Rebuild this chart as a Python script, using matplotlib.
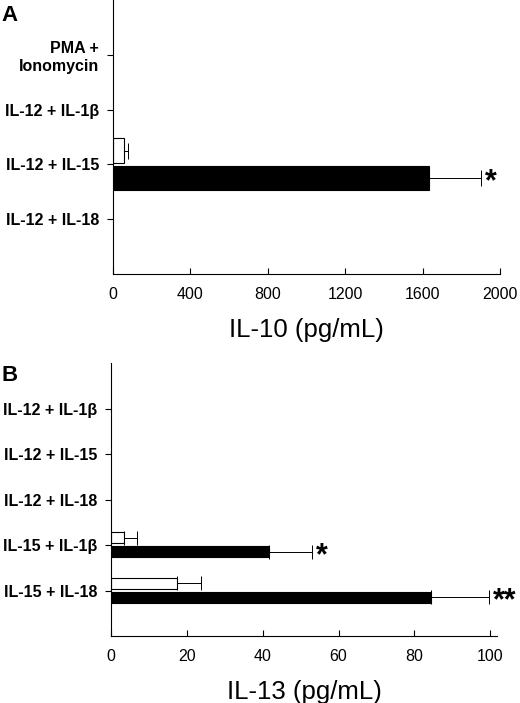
import numpy as np
import matplotlib.pyplot as plt

plt.rcParams['font.family'] = ['Liberation Sans', 'DejaVu Sans']

# Painel A - IL-10
cat_a = ['PMA +\nIonomycin', 'IL-12 + IL-1β', 'IL-12 + IL-15', 'IL-12 + IL-18']
aberto_a = [0, 0, 58, 0]
aberto_a_err = [0, 0, 21, 0]
preto_a = [0, 0, 1633, 0]
preto_a_err = [0, 0, 267, 0]
sig_a = ['', '', '*', '']
ticks_a = [0, 400, 800, 1200, 1600, 2000]

# Painel B - IL-13
cat_b = ['IL-12 + IL-1β', 'IL-12 + IL-15', 'IL-12 + IL-18', 'IL-15 + IL-1β', 'IL-15 + IL-18']
aberto_b = [0, 0, 0, 3.4, 17.4]
aberto_b_err = [0, 0, 0, 3.4, 6.3]
preto_b = [0, 0, 0, 41.6, 84.5]
preto_b_err = [0, 0, 0, 11.3, 15.2]
sig_b = ['', '', '', '*', '**']
ticks_b = [0, 20, 40, 60, 80, 100]


def painel(ax, cats, v_ab, e_ab, v_pr, e_pr, sig, ticks, xmax, rotulo,
           off_ab, off_pr, alt, cap):
    y = np.arange(1, len(cats) + 1)
    for yy, v, e in zip(y + off_ab, v_ab, e_ab):
        if v > 0:
            ax.barh(yy, v, height=alt, color='white', edgecolor='black', linewidth=0.8)
            ax.errorbar(v, yy, xerr=[[0], [e]], fmt='none', ecolor='black',
                        elinewidth=0.7, capsize=cap, capthick=0.7)
    for yy, v, e, s in zip(y + off_pr, v_pr, e_pr, sig):
        if v > 0:
            ax.barh(yy, v, height=alt, color='black', edgecolor='black', linewidth=0.8)
            ax.errorbar(v, yy, xerr=[[0], [e]], fmt='none', ecolor='black',
                        elinewidth=0.7, capsize=cap, capthick=0.7)
        if s:
            ax.annotate(s, xy=(v + e, yy), xytext=(3, -3), textcoords='offset points',
                        ha='left', va='center', fontsize=22, fontweight='bold')
    ax.set_ylim(len(cats) + 1, 0)
    ax.set_xlim(0, xmax)
    ax.set_yticks(y)
    ax.set_yticklabels(cats, fontsize=11.5, fontweight='bold', linespacing=1.2)
    ax.set_xticks(ticks)
    ax.set_xticklabels([str(t) for t in ticks], fontsize=11.5)
    ax.set_xlabel(rotulo, fontsize=18.5, labelpad=12)
    for lado in ['top', 'right']:
        ax.spines[lado].set_visible(False)
    for lado in ['left', 'bottom']:
        ax.spines[lado].set_linewidth(0.8)
    ax.tick_params(axis='y', direction='out', length=4, width=0.8, pad=6)
    ax.tick_params(axis='x', direction='in', length=4, width=0.8, pad=9)


fig = plt.figure(figsize=(5.2, 7.03), dpi=100)
ax_a = fig.add_axes([0.2173, 0.6102, 0.7442, 0.3898])
ax_b = fig.add_axes([0.2135, 0.0953, 0.7423, 0.3883])

painel(ax_a, cat_a, aberto_a, aberto_a_err, preto_a, preto_a_err, sig_a, ticks_a, 2000,
       'IL-10 (pg/mL)', -0.25, 0.25, 0.45, 6)
painel(ax_b, cat_b, aberto_b, aberto_b_err, preto_b, preto_b_err, sig_b, ticks_b, 101.8,
       'IL-13 (pg/mL)', -0.16, 0.15, 0.24, 5)

fig.text(0.003, 0.970, 'A', fontsize=16, fontweight='bold', va='baseline')
fig.text(0.003, 0.458, 'B', fontsize=16, fontweight='bold', va='baseline')

fig.savefig('out.png', dpi=100)
